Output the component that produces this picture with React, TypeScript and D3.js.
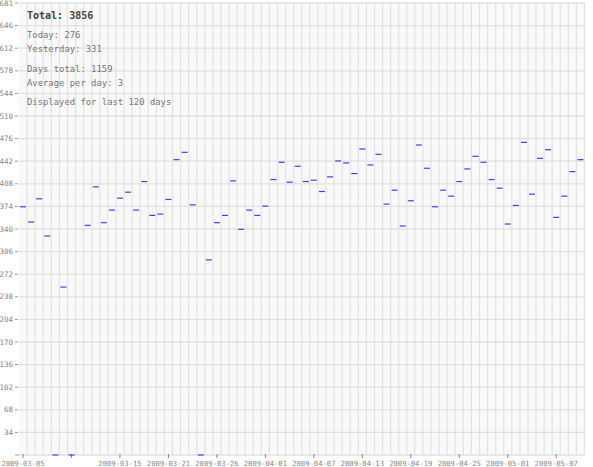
import React from "react";
import * as d3 from "d3";

const W = 593;
const H = 467;

// daily values (null = no mark)
const values: (number | null)[] = [
  374, 351, 386, 330, 0, 253, 0, null, 346, 404,
  350, 369, 387, 396, 369, 412, 361, 363, 385, 445,
  456, 377, 0, 294, 350, 361, 413, 340, 369, 361,
  375, 415, 441, 411, 435, 412, 414, 397, 419, 443,
  440, 424, 461, 437, 453, 378, 399, 345, 383, 467,
  432, 374, 399, 390, 412, 431, 450, 441, 415, 402,
  348, 376, 471, 393, 447, 460, 358, 390, 427, 445,
];

const tickIndices = [0, 6, 12, 18, 24, 30, 36, 42, 48, 54, 60, 66];
const tickLabels = [
  "2009-03-05", "", "2009-03-15", "2009-03-21", "2009-03-26", "2009-04-01",
  "2009-04-07", "2009-04-13", "2009-04-19", "2009-04-25", "2009-05-01", "2009-05-07",
];

const yMax = 681;
const yTickCount = 20;

const infoLines = [
  { text: "Today: 276", y: 38 },
  { text: "Yesterday: 331", y: 52 },
  { text: "Days total: 1159", y: 72 },
  { text: "Average per day: 3", y: 86 },
  { text: "Displayed for last 120 days", y: 105 },
];
const totalText = "Total: 3856";

const MONO = "'DejaVu Sans Mono', monospace";

export default function App() {
  const left = 19;
  const right = 584.5;
  const top = 3;
  const bottom = 455;

  const idx = values.map((_, i) => i);
  const x = d3.scaleBand<number>().domain(idx).range([left, right]).padding(0);
  const y = d3.scaleLinear().domain([0, yMax]).range([bottom, top]);
  const bw = x.bandwidth();

  const yTicks = d3.range(0, yTickCount + 1).map((k) => (yMax * k) / yTickCount);

  return (
    <svg
      width={W}
      height={H}
      style={{ position: "fixed", left: 0, top: 0, background: "#fff" }}
    >
      <rect x={left} y={top} width={right - left} height={bottom - top} fill="#f9f9f9" />
      {idx.map((i) => (
        <line
          key={"vg" + i}
          x1={(x(i) as number) + bw}
          x2={(x(i) as number) + bw}
          y1={top}
          y2={bottom}
          stroke="#e2e2e2"
          strokeWidth={1.2}
        />
      ))}
      {yTicks.map((t, k) => (
        <line
          key={"hg" + k}
          x1={left}
          x2={right}
          y1={y(t)}
          y2={y(t)}
          stroke="#e0e0e0"
          strokeWidth={1.3}
        />
      ))}
      {yTicks.map((t, k) =>
        k === 0 ? (
          <line key={"yt" + k} x1={15} x2={left} y1={y(t)} y2={y(t)} stroke="#999" />
        ) : (
          <g key={"yt" + k}>
            <line x1={15} x2={left - 1} y1={y(t)} y2={y(t)} stroke="#999" />
            <text
              x={13}
              y={y(t) + 2.5}
              textAnchor="end"
              fontFamily={MONO}
              fontSize={7.5}
              fill="#888"
            >
              {Math.floor(t)}
            </text>
          </g>
        )
      )}
      {tickIndices.map((ti, k) => {
        const cx = (x(ti) as number) + bw / 2;
        return (
          <g key={"xt" + k}>
            <line x1={cx} x2={cx} y1={bottom - 1} y2={bottom + 3} stroke="#888" />
            {tickLabels[k] ? (
              <text
                x={cx}
                y={465.5}
                textAnchor="middle"
                fontFamily={MONO}
                fontSize={7.2}
                fill="#888"
              >
                {tickLabels[k]}
              </text>
            ) : null}
          </g>
        );
      })}
      {values.map((v, i) =>
        v === null ? null : (
          <line
            key={"m" + i}
            x1={(x(i) as number) + bw / 2 - 3}
            x2={(x(i) as number) + bw / 2 + 3}
            y1={y(v)}
            y2={y(v)}
            stroke="#4040f8"
            strokeWidth={1.2}
          />
        )
      )}
      <text x={27} y={18.5} fontFamily={MONO} fontSize={10} fontWeight="bold" fill="#444">
        {totalText}
      </text>
      {infoLines.map((l, k) => (
        <text key={"il" + k} x={27} y={l.y} fontFamily={MONO} fontSize={8.9} fill="#777">
          {l.text}
        </text>
      ))}
    </svg>
  );
}
